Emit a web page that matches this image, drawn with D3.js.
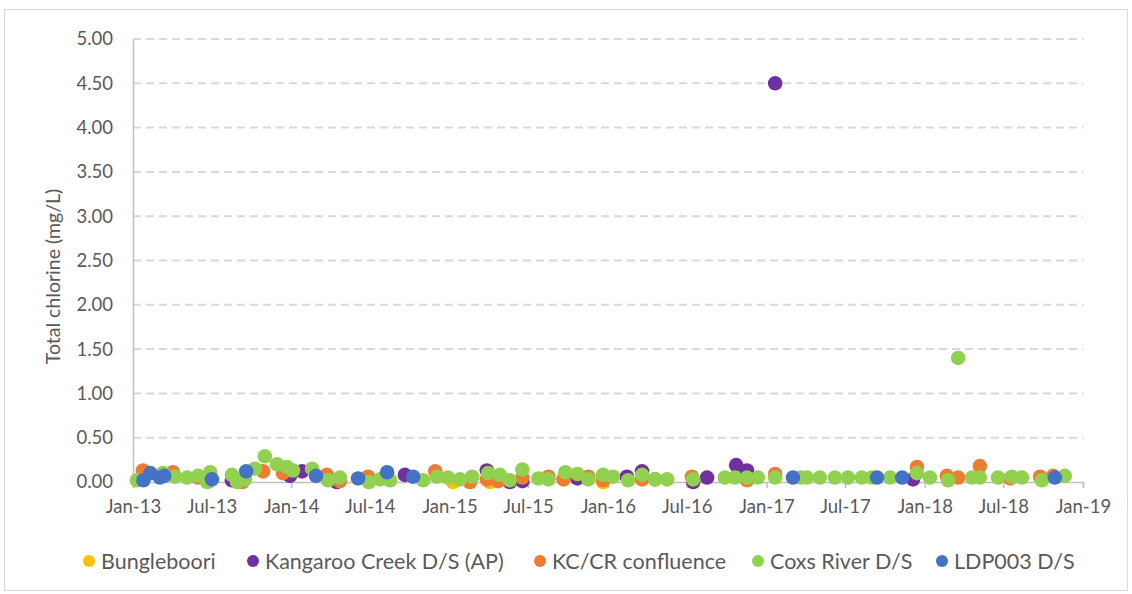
<!DOCTYPE html>
<html><head><meta charset="utf-8">
<script src="https://cdn.jsdelivr.net/npm/d3@7/dist/d3.min.js"></script>
<style>body{margin:0;background:#fff}svg{display:block}text{font-family:Lato,"Open Sans",sans-serif}</style>
</head><body><svg id="c" width="1132" height="594"></svg>
<script>
const seriesNames = ["Bungleboori","Kangaroo Creek D/S (AP)","KC/CR confluence","Coxs River D/S","LDP003 D/S"];
const seriesColors = ["#FFC000","#7030A0","#ED7D31","#92D050","#4472C4"];
const yTicks = [0,0.5,1,1.5,2,2.5,3,3.5,4,4.5,5];

const bungleboori = [["2015-01-09",0.00],["2015-04-04",0.00],["2015-12-21",0.00]];
const kangarooCreek = [["2013-08-17",0.02],["2013-12-29",0.07],["2014-01-26",0.12],["2014-04-16",0.00],["2014-09-20",0.08],
 ["2015-03-28",0.13],["2015-05-20",0.00],["2015-06-18",0.01],["2015-10-23",0.04],["2016-02-14",0.06],["2016-03-20",0.12],
 ["2016-07-16",0.00],["2016-08-17",0.05],["2016-10-23",0.19],["2016-11-17",0.13],["2017-01-21",4.50],["2017-12-05",0.03]];
const kcCrConfluence = [["2013-01-24",0.13],["2013-04-03",0.11],["2013-05-31",0.05],["2013-09-10",0.00],["2013-10-28",0.12],
 ["2013-12-13",0.10],["2014-03-24",0.08],["2014-04-23",0.01],["2014-06-27",0.06],["2014-11-29",0.12],["2015-02-17",0.00],
 ["2015-03-28",0.03],["2015-04-23",0.01],["2015-06-18",0.05],["2015-08-17",0.06],["2015-09-21",0.03],["2015-11-17",0.06],
 ["2015-12-21",0.02],["2016-03-20",0.03],["2016-04-19",0.03],["2016-07-13",0.06],["2016-11-17",0.02],["2017-01-21",0.09],
 ["2017-12-14",0.17],["2018-02-21",0.07],["2018-03-19",0.05],["2018-05-08",0.18],["2018-07-17",0.04],["2018-09-24",0.06],
 ["2018-10-24",0.07]];
const coxsRiver = [["2013-01-10",0.02],["2013-03-11",0.10],["2013-04-08",0.06],["2013-05-06",0.05],["2013-05-31",0.07],
 ["2013-06-21",0.00],["2013-06-28",0.11],["2013-08-17",0.08],["2013-08-29",0.00],["2013-09-16",0.03],["2013-10-09",0.15],
 ["2013-11-01",0.29],["2013-11-29",0.20],["2013-12-22",0.17],["2014-01-05",0.13],["2014-02-18",0.15],["2014-03-27",0.02],
 ["2014-04-23",0.05],["2014-06-29",0.00],["2014-07-25",0.03],["2014-08-17",0.02],["2014-11-01",0.02],["2014-12-03",0.06],
 ["2014-12-28",0.05],["2015-01-25",0.03],["2015-02-22",0.06],["2015-03-31",0.10],["2015-04-27",0.08],["2015-05-20",0.02],
 ["2015-06-18",0.14],["2015-07-25",0.04],["2015-08-17",0.03],["2015-09-25",0.11],["2015-10-23",0.09],["2015-11-17",0.03],
 ["2015-12-21",0.08],["2016-01-13",0.06],["2016-02-17",0.02],["2016-03-20",0.08],["2016-04-19",0.03],["2016-05-17",0.03],
 ["2016-07-16",0.03],["2016-09-27",0.05],["2016-10-20",0.05],["2016-11-17",0.05],["2016-12-12",0.05],["2017-01-21",0.05],
 ["2017-03-20",0.05],["2017-04-04",0.05],["2017-05-04",0.05],["2017-06-08",0.05],["2017-07-08",0.05],["2017-08-09",0.05],
 ["2017-09-01",0.05],["2017-10-13",0.05],["2017-12-14",0.10],["2018-01-13",0.05],["2018-02-24",0.02],["2018-03-19",1.40],
 ["2018-04-20",0.05],["2018-05-08",0.05],["2018-06-19",0.05],["2018-07-21",0.06],["2018-08-13",0.05],["2018-09-28",0.02],
 ["2018-11-20",0.07]];
const ldp003 = [["2013-01-25",0.02],["2013-02-10",0.10],["2013-03-04",0.05],["2013-03-14",0.07],["2013-07-02",0.03],
 ["2013-09-19",0.12],["2014-02-27",0.07],["2014-06-04",0.04],["2014-08-10",0.11],["2014-10-09",0.06],["2017-03-03",0.05],
 ["2017-09-13",0.05],["2017-11-10",0.05],["2018-10-28",0.05]];
const seriesData = [bungleboori,kangarooCreek,kcCrConfluence,coxsRiver,ldp003];

const svg = d3.select("#c");
const m={left:133,right:1083,top:39,bottom:482};
svg.append("rect").attr("x",4.5).attr("y",9.5).attr("width",1123).attr("height",581)
  .attr("fill","#fff").attr("stroke","#d9d9d9").attr("stroke-width",1);

const parse=d3.timeParse("%Y-%m-%d");
const x=d3.scaleTime().domain([new Date(2013,0,1),new Date(2019,0,1)]).range([m.left,m.right]);
const y=d3.scaleLinear().domain([0,5]).range([m.bottom,m.top]);

// grid
svg.append("g").selectAll("line").data(yTicks.filter(d=>d>0)).join("line")
  .attr("x1",m.left).attr("x2",m.right).attr("y1",d=>y(d)).attr("y2",d=>y(d))
  .attr("stroke","#d9d9d9").attr("stroke-width",2).attr("stroke-dasharray","8,5");

// y axis
const ya=svg.append("g").attr("transform",`translate(${m.left},0)`)
  .call(d3.axisLeft(y).tickValues(yTicks).tickFormat(d3.format(".2f")).tickSize(0).tickPadding(20));
ya.select(".domain").attr("stroke","#bfbfbf").attr("stroke-width",1.5);
ya.selectAll("text").attr("font-size",18.5).attr("fill","#595959").style("font-family","Lato");

// x axis
const xa=svg.append("g").attr("transform",`translate(0,${m.bottom})`)
  .call(d3.axisBottom(x).ticks(d3.timeMonth.every(6)).tickFormat(d3.timeFormat("%b-%y")).tickSize(6).tickSizeOuter(6).tickPadding(12));
xa.select(".domain").attr("stroke","#bfbfbf").attr("stroke-width",1.5);
xa.selectAll(".tick line").attr("stroke","#bfbfbf").attr("stroke-width",1.5);
xa.selectAll("text").attr("font-size",18.5).attr("fill","#595959").style("font-family","Lato");

// y title
svg.append("text").attr("transform",`translate(60,${(m.top+m.bottom)/2+16}) rotate(-90)`)
  .attr("text-anchor","middle").attr("font-size",19.5).attr("fill","#595959").text("Total chlorine (mg/L)");

// points
seriesData.forEach((arr,i)=>{
  svg.append("g").selectAll("circle").data(arr).join("circle")
    .attr("cx",d=>x(parse(d[0]))).attr("cy",d=>y(d[1])).attr("r",7.3)
    .attr("fill",seriesColors[i]);
});

// legend
const leg=svg.append("g");
const legStarts=[89,253,540,758,942];
seriesNames.forEach((n,i)=>{
  const g=leg.append("g").attr("transform",`translate(${legStarts[i]},561)`);
  g.append("circle").attr("r",6).attr("fill",seriesColors[i]);
  g.append("text").attr("x",12).attr("y",7.5).attr("font-size",21.5).attr("fill","#595959").text(n);
});
</script></body></html>
